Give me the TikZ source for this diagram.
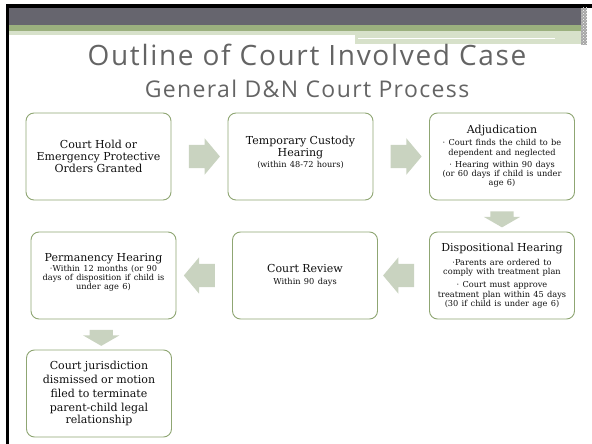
\documentclass[tikz,border=0pt]{standalone}
\usepackage{fontspec}
\setmainfont{DejaVu Serif}
\newfontfamily\headfont{Open Sans}[LetterSpace=6]
\usepackage{tikz}
\usetikzlibrary{calc,positioning,shapes.arrows,patterns}
\definecolor{boxline}{RGB}{143,166,115}
\definecolor{boxtext}{RGB}{15,15,15}
\definecolor{arrowfill}{RGB}{201,211,192}
\definecolor{headgray}{RGB}{102,101,110}
\definecolor{headgreen}{RGB}{155,176,126}
\definecolor{palegreen}{RGB}{215,225,202}
\definecolor{titlegray}{RGB}{100,100,100}
\newcommand{\stagehead}{\fontsize{11}{12}\selectfont}
\newcommand{\stagenote}{\fontsize{8.2}{9.2}\selectfont}
\tikzset{
  stagebox/.style={draw=boxline, line width=0.9pt, fill=white, rounded corners=8pt,
    minimum width=145pt, minimum height=87pt, text width=143pt, inner sep=1pt,
    align=center, text=boxtext},
  blockarrow/.style={single arrow, fill=arrowfill, draw=none, inner xsep=0pt,
    inner ysep=11.5pt, single arrow head extend=6.5pt, minimum width=36pt},
  sidearrow/.style={blockarrow, minimum height=31pt, single arrow tip angle=100},
  downarrow/.style={blockarrow, minimum height=16pt, single arrow tip angle=120, rotate=-90}
}
\begin{document}
\begin{tikzpicture}[x=1pt,y=-1pt]
\useasboundingbox (0,0) rectangle (592,444);
% header band
\fill[black] (6,4) rectangle (592,8);
\fill[black] (6,4) rectangle (9,444);
\fill[headgray] (9,8) rectangle (581,25);
\fill[headgreen] (9,25) rectangle (581,31);
\fill[palegreen] (9,31) rectangle (355,35);
\fill[palegreen] (355,31) rectangle (581,44);
\draw[white, line width=1pt] (358,39) -- (555,39);
\fill[gray!70] (581,8) rectangle (587,45);
\fill[pattern=crosshatch dots, pattern color=white] (581,8) rectangle (587,45);
% titles
\node[anchor=base, text=titlegray, font=\headfont\fontsize{28}{32}\selectfont] (title) at (307,66) {Outline of Court Involved Case};
\node[anchor=base, text=titlegray, font=\headfont\fontsize{23}{27}\selectfont] (subtitle) at (307,98) {General D\&N Court Process};
% stages
\node[stagebox] (hold) at (98.5,156.5) {\stagehead Court Hold or\\Emergency Protective\\Orders Granted};
\node[stagebox] (custody) at (300.5,156.5) {\stagehead Temporary Custody\\Hearing\par\vspace{1pt}\stagenote (within 48-72 hours)\par\vspace{8pt}};
\node[stagebox] (adjud) at (502,156.5) {\stagehead Adjudication\par\vspace{3pt}
  \stagenote · Court finds the child to be\\dependent and neglected\par\vspace{3pt}
  · Hearing within 90 days\\(or 60 days if child is under\\age 6)\par};
\node[stagebox] (dispo) at (502,275.5) {\stagehead Dispositional Hearing\par\vspace{5pt}
  \stagenote ·Parents are ordered to\\comply with treatment plan\par\vspace{4pt}
  · Court must approve\\treatment plan within 45 days\\(30 if child is under age 6)\par};
\node[stagebox] (review) at (305,275.5) {\stagehead Court Review\par\vspace{3pt}\stagenote Within 90 days\par};
\node[stagebox] (perm) at (103.5,275.5) {\stagehead Permanency Hearing\par\vspace{1pt}
  \stagenote ·Within 12 months (or 90\\days of disposition if child is\\under age 6)\par\vspace{6pt}};
\node[stagebox] (close) at (99,393.5) {\fontsize{11}{13.7}\selectfont Court jurisdiction\\dismissed or motion\\filed to terminate\\parent-child legal\\relationship};
% arrows between stages
\node[sidearrow] (a1) at ($(hold.east)!0.5!(custody.west)$) {};
\node[sidearrow] (a2) at ($(custody.east)!0.5!(adjud.west)$) {};
\node[downarrow] (a3) at ($(adjud.south)!0.5!(dispo.north)$) {};
\node[sidearrow, rotate=180] (a4) at ($(dispo.west)!0.5!(review.east)$) {};
\node[sidearrow, rotate=180] (a5) at ($(review.west)!0.5!(perm.east)$) {};
\node[downarrow] (a6) at ($(perm.south)!0.5!(close.north)$) {};
\end{tikzpicture}
\end{document}
